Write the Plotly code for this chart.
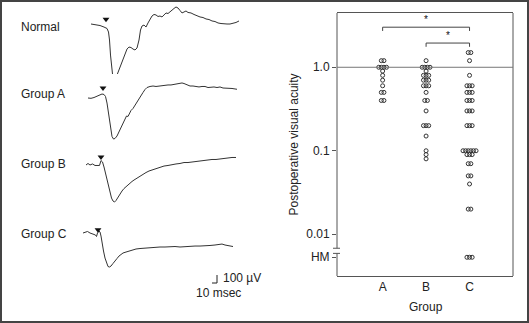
import plotly.graph_objects as go

W, H = 529, 323

# ---------------- ERG waveforms: time in ms (0 = flash), amplitude in µV ----------------
normal_t = [-30, -22, -12, -4, 2, 5, 7, 9, 11, 13, 16, 19, 22, 26, 30, 34, 38, 42, 46, 50,
            54, 58, 62, 66, 69, 72, 76, 80, 84, 88, 92, 96, 100, 104, 108, 112, 116, 120, 124,
            128, 132, 136, 140, 144, 148, 152, 156, 160, 164, 170, 176, 182, 188, 194, 200,
            206, 212, 218, 224, 230, 236, 242, 248, 254, 260, 266]
normal_uv = [0, -6, -19, -38, -56, -100, -200, -388, -550, -625, -663, -669, -638, -575, -513,
             -450, -375, -313, -288, -294, -313, -325, -300, -200, -75, -25, -13, -38, 13, 63,
             100, 119, 113, 94, 100, 88, 113, 138, 131, 156, 175, 194, 213, 200, 169, 138, 150,
             163, 144, 138, 119, 100, 88, 81, 63, 56, 38, 31, 13, 6, 0, 0, 0, 6, 19, 38]

group_a_t = [-30, -24, -18, -12, -6, -2, 2, 5, 8, 10, 12, 14, 16, 18, 21, 24, 28, 32, 36, 40,
             44, 47, 50, 53, 56, 60, 64, 68, 72, 76, 80, 84, 88, 94, 100, 106, 112, 118, 124,
             130, 136, 142, 148, 154, 158, 162, 168, 174, 180, 186, 192, 198, 204, 210, 216,
             222, 228, 234, 240, 246, 252, 258, 264, 268]
group_a_uv = [0, -4, 6, 19, 38, 50, 44, 19, -63, -150, -250, -350, -425, -481, -513, -506,
              -475, -425, -369, -313, -269, -225, -231, -188, -156, -131, -88, -44, -6, 38, 69,
              106, 131, 144, 150, 144, 150, 156, 156, 163, 163, 169, 175, 181, 188, 181, 163,
              150, 150, 144, 138, 144, 144, 131, 138, 138, 131, 138, 125, 125, 119, 119, 113, 109]

group_b_t = [-30, -26, -22, -17, -12, -8, -3, 0, 3, 6, 9, 12, 15, 18, 21, 24, 27, 30, 34, 38,
             42, 46, 50, 54, 58, 62, 66, 72, 78, 84, 90, 96, 102, 110, 118, 126, 134, 142, 150,
             158, 166, 174, 182, 190, 198, 206, 214, 222, 230, 238, 246, 254, 262, 270]
group_b_uv = [0, 19, 0, 13, -6, -6, -6, 56, 38, -25, -100, -188, -275, -356, -413, -450, -463,
              -444, -400, -356, -325, -294, -269, -250, -225, -206, -188, -163, -138, -119, -94,
              -75, -63, -44, -25, -13, -6, 6, 13, 19, 31, 31, 38, 44, 50, 56, 63, 69, 69, 75,
              88, 94, 94, 94]

group_c_t = [-30, -26, -21, -16, -10, -5, -3, -1, 2, 4, 6, 8, 11, 14, 17, 20, 23, 26, 30, 34,
             38, 42, 46, 50, 56, 62, 68, 76, 84, 94, 104, 114, 124, 134, 144, 154, 164, 174,
             184, 194, 204, 214, 224, 234, 242, 248, 254, 260, 266, 270]
group_c_uv = [0, 13, 19, 0, -13, -25, -44, 0, 25, 13, -38, -125, -225, -313, -375, -419, -425,
              -413, -381, -344, -319, -288, -269, -250, -238, -225, -213, -200, -194, -188, -181,
              -181, -175, -175, -169, -169, -175, -169, -169, -163, -163, -163, -156, -150, -144,
              -138, -150, -156, -163, -169]

trace_names = ["Normal", "Group A", "Group B", "Group C"]

# ---------------- Postoperative visual acuity (decimal), "HM" = hand motion ----------------
group_names = ["A", "B", "C"]
acuity_a = [1.2, 1.2, 1.0, 1.0, 1.0, 1.0, 0.9, 0.8, 0.7, 0.6, 0.5, 0.5, 0.4, 0.4]
acuity_b = [1.2, 1.0, 1.0, 1.0, 1.0, 0.9, 0.8, 0.8, 0.8, 0.7, 0.7, 0.7, 0.6, 0.6, 0.6, 0.5,
            0.4, 0.4, 0.3, 0.2, 0.2, 0.2, 0.15, 0.1, 0.09, 0.08]
acuity_c = [1.5, 1.5, 1.2, 0.8, 0.6, 0.6, 0.6, 0.5, 0.5, 0.5, 0.4, 0.4, 0.4, 0.3, 0.3, 0.3,
            0.2, 0.2, 0.2, 0.1, 0.1, 0.1, 0.1, 0.1, 0.1, 0.09, 0.09, 0.09, 0.07, 0.07, 0.05,
            0.05, 0.04, 0.02, 0.02, "HM", "HM", "HM"]
y_tick_vals = [1.0, 0.1, 0.01]
y_tick_text = ["1.0", "0.1", "0.01"]
HM_LABEL = "HM"

FONT = "Liberation Sans, Arial, Helvetica, sans-serif"
INK = "#222"
FRAME = "#555"


def px_x(p):
    return p / W


def px_y(p):
    return 1 - p / H


fig = go.Figure()

# ---------------- left panel: one hidden axis pair per waveform ----------------
T_RANGE = [-40, 280]
UV_RANGE = [-800, 300]
PX_PER_MS = 0.5
PX_PER_UV = 0.08
# (flash x pixel, baseline y pixel, marker height in µV, label y pixel)
panel_pos = [(106, 24, 60, 27), (103, 98, 125, 94), (101, 165, 100, 164), (98, 233, 40, 234)]
traces = [(normal_t, normal_uv), (group_a_t, group_a_uv),
          (group_b_t, group_b_uv), (group_c_t, group_c_uv)]

for k, (name, (t, uv), (fx, by, tri_uv, ly)) in enumerate(zip(trace_names, traces, panel_pos)):
    n = k + 2
    xa, ya = f"x{n}", f"y{n}"
    fig.add_trace(go.Scatter(x=t, y=uv, xaxis=xa, yaxis=ya, mode="lines",
                             line=dict(color="#333", width=1), hoverinfo="skip",
                             showlegend=False))
    fig.add_trace(go.Scatter(x=[0], y=[tri_uv], xaxis=xa, yaxis=ya, mode="markers",
                             marker=dict(symbol="triangle-down", size=6, color="#111"),
                             hoverinfo="skip", showlegend=False, cliponaxis=False))
    left = fx + T_RANGE[0] * PX_PER_MS
    right = fx + T_RANGE[1] * PX_PER_MS
    top = by - UV_RANGE[1] * PX_PER_UV
    bottom = by - UV_RANGE[0] * PX_PER_UV
    fig.update_layout({
        f"xaxis{n}": dict(domain=[px_x(left), px_x(right)], range=T_RANGE, visible=False,
                          anchor=ya, fixedrange=True),
        f"yaxis{n}": dict(domain=[px_y(bottom), px_y(top)], range=UV_RANGE, visible=False,
                          anchor=xa, fixedrange=True),
    })
    fig.add_annotation(text=name, x=px_x(19), y=px_y(ly), xref="paper", yref="paper",
                       xanchor="left", yanchor="middle", showarrow=False,
                       font=dict(family=FONT, size=12, color=INK))

# scale bar: 10 ms x 100 µV, drawn on the Group C axes
SB_T, SB_UV = 238, -625
fig.add_shape(type="line", xref="x5", yref="y5", x0=SB_T - 10, x1=SB_T, y0=SB_UV, y1=SB_UV,
              line=dict(color=INK, width=1))
fig.add_shape(type="line", xref="x5", yref="y5", x0=SB_T, x1=SB_T, y0=SB_UV, y1=SB_UV + 100,
              line=dict(color=INK, width=1))
fig.add_annotation(text="100 µV", x=px_x(221), y=px_y(278), xref="paper", yref="paper",
                   xanchor="left", yanchor="middle", showarrow=False,
                   font=dict(family=FONT, size=12, color=INK))
fig.add_annotation(text="10 msec", x=px_x(194), y=px_y(293), xref="paper", yref="paper",
                   xanchor="left", yanchor="middle", showarrow=False,
                   font=dict(family=FONT, size=12, color=INK))

# ---------------- right panel: dot plot of acuity ----------------
HM_POS = 0.0053
DX = 0.06
for gi, vals in enumerate([acuity_a, acuity_b, acuity_c]):
    counts = {}
    for v in vals:
        counts[v] = counts.get(v, 0) + 1
    xs, ys = [], []
    for v, n in counts.items():
        yv = HM_POS if v == HM_LABEL else v
        for j in range(n):
            xs.append(gi + 1 + (j - (n - 1) / 2) * DX)
            ys.append(yv)
    fig.add_trace(go.Scatter(x=xs, y=ys, xaxis="x", yaxis="y", mode="markers",
                             marker=dict(symbol="circle-open", size=4, color="#333",
                                         line=dict(width=1)),
                             hoverinfo="skip", showlegend=False, cliponaxis=False))

Y_LOG_RANGE = [-2.5, 0.65]
Y_BOTTOM, Y_TOP = 10 ** Y_LOG_RANGE[0], 10 ** Y_LOG_RANGE[1]
fig.update_layout(
    xaxis=dict(domain=[px_x(337), px_x(513)], range=[-0.05, 4.0], tickvals=[1, 2, 3],
               ticktext=group_names, ticks="", showline=True, mirror=True, linecolor=FRAME,
               linewidth=1, showgrid=False, zeroline=False, anchor="y", fixedrange=True,
               tickfont=dict(family=FONT, size=12, color=INK)),
    yaxis=dict(type="log", domain=[px_y(276), px_y(13)], range=Y_LOG_RANGE,
               tickvals=y_tick_vals + [HM_POS], ticktext=y_tick_text + [HM_LABEL],
               ticks="outside", ticklen=4, tickcolor=FRAME, tickwidth=1, showline=False,
               showgrid=False, zeroline=False, anchor="x", fixedrange=True,
               tickfont=dict(family=FONT, size=12, color=INK)),
)

# right frame edge and broken left axis (shape y values in data units)
BRK_HI, BRK_LO = 0.0068, 0.0059
fig.add_shape(type="line", xref="x domain", yref="y domain", x0=1, x1=1, y0=0, y1=1,
              line=dict(color=FRAME, width=1))
fig.add_shape(type="line", xref="x domain", yref="y", x0=0, x1=0, y0=BRK_HI, y1=Y_TOP,
              line=dict(color=FRAME, width=1))
fig.add_shape(type="line", xref="x domain", yref="y", x0=0, x1=0, y0=Y_BOTTOM, y1=BRK_LO,
              line=dict(color=FRAME, width=1))
for yb in (BRK_HI, BRK_LO):
    fig.add_shape(type="line", xref="paper", yref="y", x0=px_x(333), x1=px_x(340), y0=yb, y1=yb,
                  line=dict(color=FRAME, width=1))

# reference line at acuity 1.0
fig.add_shape(type="line", xref="x domain", yref="y", x0=0, x1=1, y0=1.0, y1=1.0,
              line=dict(color="#777", width=1))

# significance brackets (log10 heights above the axis)
for g0, g1, ylog in [(1, 3, 0.48), (2, 3, 0.29)]:
    y_hi = 10 ** ylog
    y_lo = 10 ** (ylog - 0.045)
    for x0, y0, x1, y1 in [(g0, y_lo, g0, y_hi), (g0, y_hi, g1, y_hi), (g1, y_hi, g1, y_lo)]:
        fig.add_shape(type="line", xref="x", yref="y", x0=x0, y0=y0, x1=x1, y1=y1,
                      line=dict(color="#444", width=1))
    fig.add_annotation(text="*", x=(g0 + g1) / 2, y=ylog, xref="x", yref="y",
                       yanchor="bottom", showarrow=False,
                       font=dict(family=FONT, size=10, color="#111"))

# axis titles
fig.add_annotation(text="Postoperative visual acuity", x=px_x(293), y=px_y(144.5),
                   xref="paper", yref="paper", textangle=-90, xanchor="center",
                   yanchor="middle", showarrow=False, font=dict(family=FONT, size=12, color=INK))
fig.add_annotation(text="Group", x=px_x(426), y=px_y(307), xref="paper", yref="paper",
                   xanchor="center", yanchor="middle", showarrow=False,
                   font=dict(family=FONT, size=12, color=INK))

# outer border
fig.add_shape(type="rect", xref="paper", yref="paper", x0=px_x(1), x1=px_x(528),
              y0=px_y(322), y1=px_y(1), line=dict(color="#444", width=2))

fig.update_layout(width=W, height=H, margin=dict(l=0, r=0, t=0, b=0),
                  paper_bgcolor="white", plot_bgcolor="white", showlegend=False)

fig.write_html("out.html")
